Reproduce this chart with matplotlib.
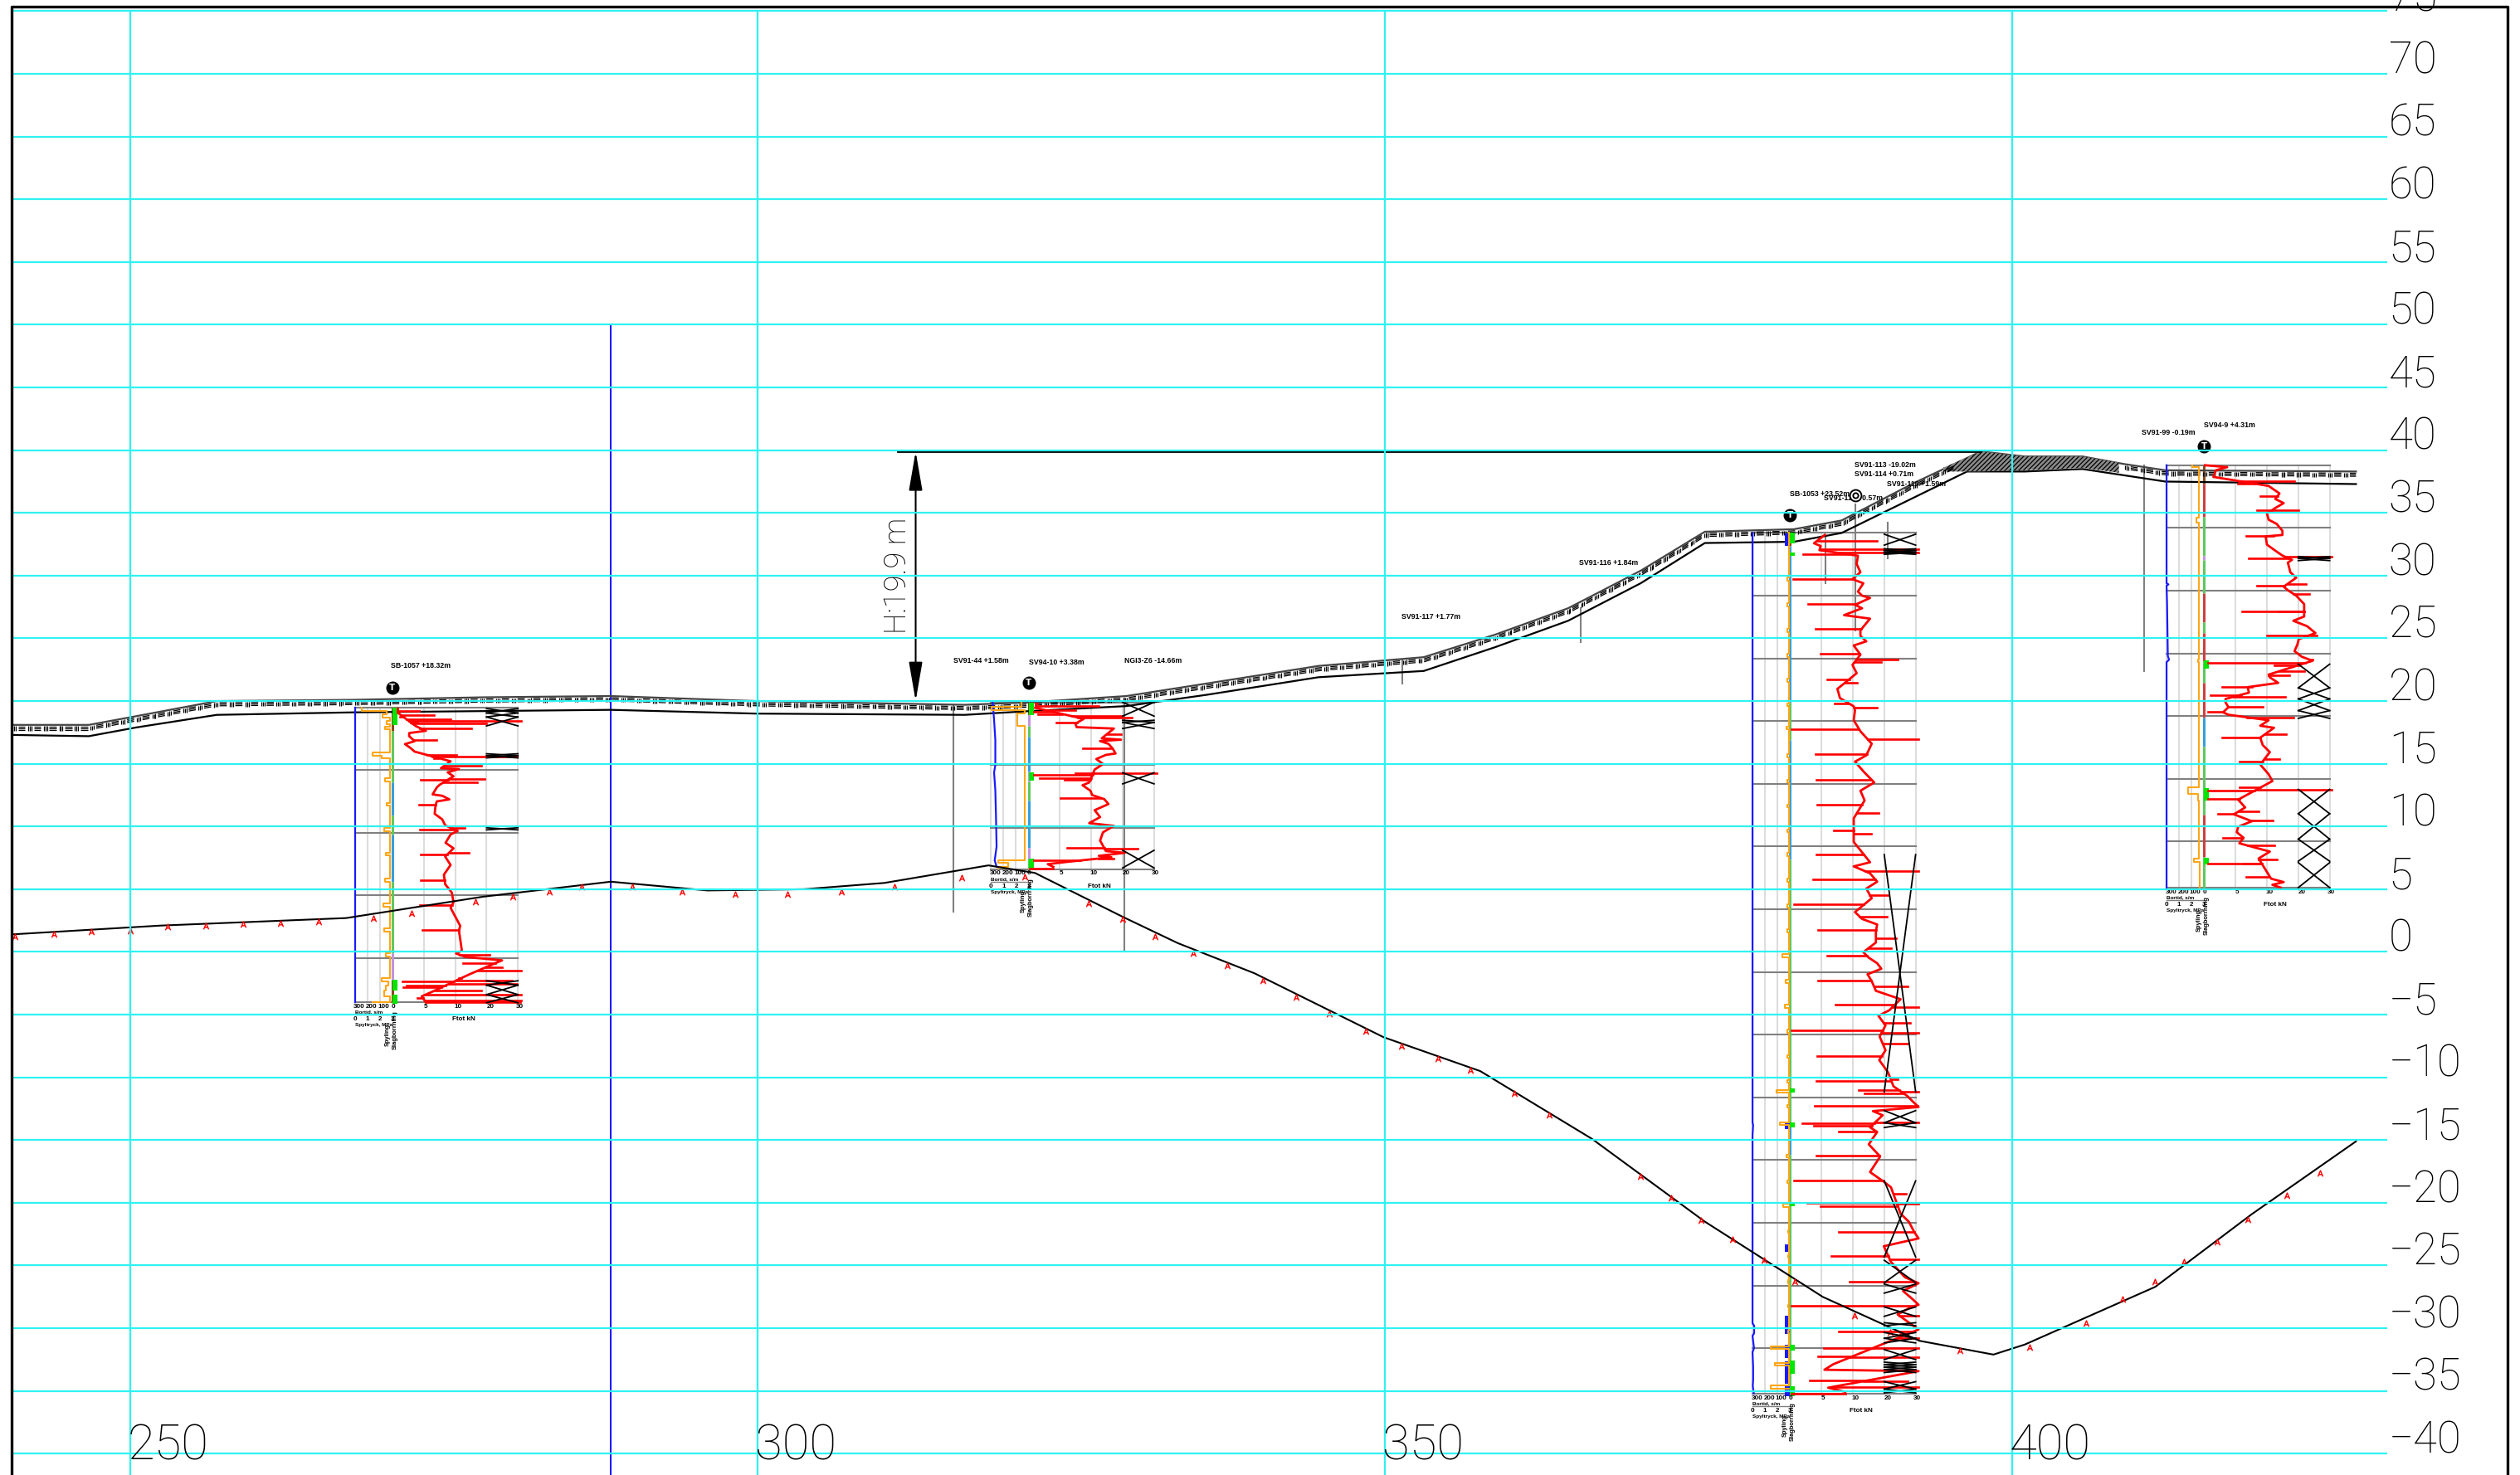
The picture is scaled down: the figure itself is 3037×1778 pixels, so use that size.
import numpy as np
import matplotlib
matplotlib.use('Agg')
import matplotlib.pyplot as plt
from matplotlib.collections import LineCollection
from matplotlib.path import Path
from matplotlib.patches import Rectangle

CYAN = '#2ef2f2'
GREY = '#808080'
LIGHT = '#dddddd'
RED = '#ff0000'
ORANGE = '#ffa615'
BLUE = '#1a1aff'
GREEN = '#00e600'
S_GREEN = '#5fc85f'
S_BLUE = '#35a0dc'
S_BROWN = '#8a4a1c'
S_LILAC = '#c493e0'
S_RED = '#cc4040'

# axis labels
level_ticks = [70, 65, 60, 55, 50, 45, 40, 35, 30, 25, 20, 15, 10, 5, 0, -5, -10, -15, -20, -25, -30, -35, -40]
chainage_ticks = [250, 300, 350, 400]

# ground surface (chainage, level)
surface_x = [240.6, 246.7, 250.5, 256.9, 267.8, 278.1, 288.3, 299.9, 316.5, 321.7, 329.4, 335.8, 344.7, 353.1, 358.8,
             364.6, 370.4, 375.5, 382.6, 386.4, 392.2, 397.5, 401.0, 405.6, 408.9, 412.2, 427.4]
surface_y = [18.1, 18.1, 18.8, 20.0, 20.1, 20.3, 20.4, 20.0, 19.7, 19.9, 20.4, 21.4, 22.8, 23.5, 25.3,
             27.4, 30.4, 33.5, 33.7, 34.4, 37.4, 39.9, 39.5, 39.5, 38.9, 38.4, 38.3]
under_x = [240.6, 246.7, 250.5, 256.9, 267.8, 278.1, 288.3, 299.9, 316.5, 321.7, 329.4, 335.8, 344.7, 353.1, 358.8,
           364.6, 370.4, 375.5, 382.6, 386.4, 396.4, 401.0, 405.6, 408.9, 412.2, 427.4]
under_y = [17.3, 17.2, 17.9, 18.9, 19.1, 19.2, 19.3, 19.0, 18.9, 19.2, 19.6, 20.5, 21.9, 22.4, 24.3,
           26.4, 29.4, 32.6, 32.7, 33.4, 38.3, 38.3, 38.5, 38.0, 37.5, 37.3]
dense_x = [394.5, 397.5, 401.0, 405.6, 408.5]
dense_top = [38.6, 39.9, 39.5, 39.5, 39.0]
dense_bot = [38.3, 38.3, 38.4, 38.6, 38.2]

# bedrock line and its red marks
rock_x = [240.6, 252.4, 267.2, 278.1, 288.3, 296.0, 303.7, 310.1, 318.4, 322.1, 329.1, 333.5, 339.6, 349.9, 357.6,
          366.5, 375.5, 384.9, 392.6, 398.5, 401.0, 411.4, 419.1, 427.4]
rock_y = [1.4, 2.1, 2.7, 4.4, 5.6, 4.9, 5.0, 5.5, 6.9, 6.3, 2.8, 0.7, -1.7, -6.8, -9.5,
          -14.9, -21.5, -27.5, -31.0, -32.1, -31.3, -26.7, -20.9, -15.1]
mark_x = [240.8, 243.9, 246.9, 250.0, 253.0, 256.0, 259.0, 262.0, 265.0, 269.4, 272.4, 277.5, 280.5, 283.4, 286.0,
          290.0, 294.0, 298.2, 302.4, 306.7, 310.9, 316.3, 321.3, 326.4, 329.1, 331.7, 334.7, 337.4, 340.3, 342.9,
          345.6, 348.5, 351.3, 354.2, 356.8, 360.3, 363.1, 370.4, 372.8, 375.2, 377.7, 380.2, 382.7, 387.4, 390.3,
          395.8, 401.4, 405.9, 408.8, 411.4, 413.7, 416.3, 418.8, 421.9, 424.5]
mark_y = [1.2, 1.4, 1.6, 1.7, 2.0, 2.1, 2.2, 2.3, 2.4, 2.7, 3.1, 4.0, 4.4, 4.8, 5.2,
          5.2, 4.8, 4.6, 4.6, 4.8, 5.2, 5.9, 6.0, 3.9, 2.6, 1.2, -0.1, -1.1, -2.3, -3.6,
          -4.9, -6.3, -7.5, -8.5, -9.4, -11.3, -13.0, -17.9, -19.6, -21.4, -22.9, -24.6, -26.3, -29.0, -30.3,
          -31.8, -31.5, -29.6, -27.7, -26.3, -24.7, -23.1, -21.3, -19.4, -17.6]

# single soundings drawn as plain grey sticks: chainage, top, bottom
stick_x = [315.6, 329.2, 351.4, 365.6, 410.5, 387.5, 390.1, 385.1]
stick_top = [19.7, 20.2, 23.3, 27.4, 38.8, 35.7, 34.2, 33.1]
stick_bot = [3.2, 0.0, 21.4, 24.7, 22.4, 25.6, 31.4, 29.4]

# borehole names
name_text = ['SB-1057 +18.32m', 'SV91-44 +1.58m', 'SV94-10 +3.38m', 'NGI3-Z6 -14.66m', 'SV91-117 +1.77m', 'SV91-116 +1.84m',
             'SB-1053 +23.52m', 'SV91-112 +0.57m', 'SV91-113 -19.02m', 'SV91-114 +0.71m', 'SV91-119 +1.59m',
             'SV91-99 -0.19m', 'SV94-9 +4.31m']
name_x = [270.8, 315.6, 321.6, 329.2, 351.3, 365.5, 382.3, 385.0, 387.4, 387.4, 390.0, 410.3, 415.3]
name_y = [22.8, 23.2, 23.1, 23.2, 26.7, 31.0, 36.5, 36.2, 38.8, 38.1, 37.3, 41.4, 42.0]

# borehole 1
bh1_x = 270.9
bh1_top = 19.5
bh1_depth = [0.1, 0.29, 0.44, 0.6, 0.77, 0.95, 1.1, 1.2, 1.3, 1.5, 1.65, 1.87, 2.05, 2.3, 2.58, 2.7, 2.93, 3.24, 3.53, 3.81, 3.9, 4.03,
             4.3, 4.63, 4.85, 4.92, 5.18, 5.5, 5.69, 5.78, 5.95, 6.17, 6.39, 6.94, 7.05, 7.34, 7.5, 7.76, 7.83, 8.49, 8.93, 9.41, 9.59,
             9.72, 9.85, 10.14, 10.8, 11.24, 11.57, 11.73, 11.9, 12.57, 13.34, 13.78, 14.1, 14.77, 15.54, 15.76, 15.98, 16.42, 17.42,
             17.75, 17.8, 19.4, 19.62, 19.73, 19.9, 20.17, 20.39, 20.72, 20.99, 21.27, 21.6, 21.76, 21.87, 22.05, 22.16, 22.34, 22.55,
             22.66, 22.93, 23.04, 23.19, 23.37, 23.48, 23.52]
bh1_force = [1.3, 6.3, 1.3, 9.9, 1.7, 13.9, 30.8, 6.0, 22.5, 5.6, 18.9, 8.0, 4.0, 4.0, 10.6, 5.3, 3.0, 4.3, 5.3, 15.2, 29.8, 9.9,
             13.9, 21.2, 11.6, 15.9, 13.2, 14.6, 22.0, 6.8, 20.2, 11.3, 10.6, 9.6, 11.9, 13.6, 10.6, 6.3, 10.3, 10.1, 11.9, 12.6, 17.2,
             6.5, 15.6, 13.9, 12.7, 14.6, 18.2, 6.8, 12.6, 13.9, 12.3, 6.8, 12.6, 14.2, 14.6, 6.5, 13.9, 14.6, 16.2,
             7.1, 15.9, 16.6, 15.2, 23.2, 17.5, 26.2, 16.9, 26.2, 30.8, 18.5, 15.9, 28.5, 2.3, 29.8, 3.3, 2.6, 21.2,
             9.6, 30.8, 7.0, 6.0, 30.8, 7.9, 30.5]
bh1_rate_depth = [0.0, 0.1, 0.3, 0.55, 0.82, 1.1, 1.32, 1.54, 1.76, 3.6, 3.86, 4.08, 5.63, 5.9, 7.65, 7.83, 9.6, 9.85, 11.6, 11.8, 13.67,
                  13.89, 15.66, 15.88, 17.64, 17.86, 19.6, 19.84, 21.6, 21.82, 22.15, 22.6, 23.04, 23.48]
bh1_rate = [243, 243, 49, 77, 22, 49, 22, 62, 22, 161, 88, 22, 62, 22, 49, 22, 66, 22, 55, 22, 62,
            22, 71, 22, 66, 22, 55, 22, 88, 33, 55, 66, 22, 161]
bh1_feed_depth = [0.0, 23.5]
bh1_feed = [300, 300]
bh1_bottom = 23.5
bh1_strip_from = [0.0, 1.9, 5.95, 8.6, 10.14, 13.9, 19.62, 21.7]
bh1_strip_to = [1.9, 5.95, 8.6, 10.14, 13.9, 19.62, 21.7, 23.5]
bh1_strip_col = [S_BROWN, S_GREEN, S_BLUE, S_GREEN, S_BLUE, S_GREEN, S_LILAC, S_BROWN]
bh1_green_from = [0.0, 21.7, 22.93]
bh1_green_to = [1.43, 22.6, 23.65]
bh1_blue_from = []
bh1_blue_to = []
bh1_x_from = [0.1, 0.45, 0.77, 3.7, 3.85, 9.6, 21.8, 22.15, 22.9]
bh1_x_to = [0.45, 0.77, 1.48, 3.85, 4.03, 9.77, 22.15, 22.9, 23.55]

# borehole 2
bh2_x = 321.6
bh2_top = 19.9
bh2_depth = [0.07, 0.29, 0.44, 0.62, 0.77, 0.93, 1.1, 1.21, 1.32, 1.61, 1.7, 1.98, 2.09, 2.54, 2.87, 2.98, 3.09, 3.31, 3.64, 3.68, 4.08,
             4.19, 4.52, 4.92, 5.36, 5.62, 5.67, 5.75, 6.06, 6.17, 6.39, 6.61, 7.05, 7.39, 7.63, 7.72, 8.11, 8.6, 9.15, 9.63, 9.85,
             10.36, 11.02, 11.62, 11.68, 11.86, 12.0, 12.24, 12.35, 12.46, 12.61, 12.72, 12.9, 13.12, 13.25]
bh2_force = [2.0, 16.8, 1.6, 11.2, 1.3, 2.3, 22.4, 24.7, 13.2, 6.6, 11.2, 11.5, 20.4, 22.1, 17.5, 22.1, 17.1, 19.1, 12.9, 20.1, 20.8,
             18.5, 16.2, 17.8, 15.8, 11.2, 30.7, 1.3, 2.6, 8.6, 14.5, 12.9, 14.8, 15.2, 7.6, 18.1, 19.1, 15.8, 17.1, 14.5, 20.4,
             17.8, 17.1, 9.2, 26.0, 18.5, 23.0, 16.8, 19.8, 20.4, 1.3, 9.2, 4.6, 5.9, 0.3]
bh2_rate_depth = [0.0, 0.33, 0.6, 0.88, 1.2, 1.87, 12.6, 12.8, 13.1, 13.25]
bh2_rate = [55, 297, 33, 88, 88, 33, 242, 165, 242, 242]
bh2_feed_depth = [0.0, 1.4, 3.0, 5.0, 5.6, 7.0, 9.0, 11.5, 12.6, 13.1]
bh2_feed = [286, 275, 265, 265, 275, 265, 260, 255, 270, 255]
bh2_bottom = 13.3
bh2_strip_from = [0.0, 1.0, 1.87, 2.76, 5.5, 6.28, 7.83, 11.57, 12.46]
bh2_strip_to = [1.0, 1.87, 2.76, 5.5, 6.28, 7.83, 11.57, 12.46, 13.3]
bh2_strip_col = [S_BROWN, S_LILAC, S_GREEN, S_BLUE, S_LILAC, S_GREEN, S_BLUE, S_LILAC, S_GREEN]
bh2_green_from = [0.0, 5.55, 12.46]
bh2_green_to = [1.0, 6.24, 13.3]
bh2_blue_from = []
bh2_blue_to = []
bh2_x_from = [0.0, 1.43, 1.6, 5.62, 11.8]
bh2_x_to = [1.1, 1.6, 2.09, 6.5, 13.2]

# borehole 3
bh3_x = 382.3
bh3_top = 33.4
bh3_depth = [0.15, 0.6, 0.82, 1.04, 1.26, 1.37, 1.54, 1.7, 1.81, 2.47, 3.13, 3.64, 3.68, 4.01, 4.67, 5.0, 5.18, 5.67, 5.73, 6.0, 6.55,
             6.83, 7.65, 7.76, 8.2, 8.64, 8.97, 9.63, 9.7, 10.08, 10.3, 10.52, 11.18, 11.66, 11.95, 12.43, 13.16, 13.6, 13.82, 13.93,
             14.15, 14.93, 15.63, 15.81, 16.47, 16.8, 17.64, 17.73, 18.23, 19.0, 19.66, 19.89, 20.55, 21.32, 21.69, 22.31, 22.75,
             23.7, 24.0, 24.63, 25.62, 26.25, 26.58, 26.96, 27.13, 27.64, 27.8, 28.35, 28.85, 29.12, 29.63, 29.67, 30.22, 30.6, 30.77,
             31.21, 31.65, 31.76, 32.32, 32.65, 33.09, 33.42, 33.68, 33.86, 34.3, 34.74, 35.18, 35.67, 35.73, 36.17, 36.5, 37.17,
             37.61, 37.83, 38.05, 38.49, 39.04, 39.26, 39.63, 39.88, 40.14, 40.69, 41.24, 41.69, 42.02, 43.0, 43.56, 43.67, 44.11,
             44.44, 44.55, 44.66, 44.88, 45.32, 45.7, 45.76, 46.09, 46.42, 47.02, 47.04, 47.24, 47.38, 47.69, 47.75, 48.74, 49.63,
             49.67, 49.72, 50.95, 51.65, 51.72, 52.16, 52.67, 53.44, 53.48, 53.64, 54.26, 54.92, 55.69, 55.75, 56.24, 56.86, 57.67,
             57.89, 58.11, 59.33, 59.7, 59.81, 60.43, 61.09, 61.53, 61.64, 61.7, 62.3, 62.41, 63.5, 63.67, 63.85, 64.2, 64.95, 65.0,
             65.67, 65.72, 66.27, 66.71, 66.82, 67.59, 67.62, 68.1, 68.14, 68.47, 68.62]
bh3_force = [8.3, 20.8, 5.7, 7.3, 30.7, 7.0, 30.7, 3.0, 16.2, 15.9, 16.8, 0.7, 14.9, 17.5, 16.2, 17.2, 19.1, 4.3, 15.5, 17.2, 12.9,
             19.1, 6.0, 16.8, 16.8, 18.2, 15.2, 7.3, 16.8, 25.7, 21.8, 14.9, 15.9, 8.9, 15.9, 11.3, 11.9, 10.6, 15.2, 20.8,
             15.5, 15.2, 0.4, 16.8, 30.7, 19.5, 6.0, 18.2, 15.5, 17.5, 6.2, 20.1, 16.8, 17.8, 6.4, 21.1, 15.2,
             10.4, 19.3, 15.2, 6.2, 19.1, 15.2, 30.7, 19.1, 5.5, 20.8, 18.2, 23.4, 19.5, 0.9, 17.5, 15.5, 23.1, 17.2,
             20.8, 6.6, 20.5, 25.4, 20.5, 24.1, 17.5, 8.9, 18.8, 20.8, 21.8, 18.5, 6.6, 19.5, 28.0, 20.5, 26.4,
             10.9, 30.7, 23.7, 21.1, 28.7, 22.8, 0.4, 30.7, 21.4, 28.0, 22.8, 6.4, 21.3, 23.4, 25.7, 6.3, 24.7,
             16.3, 30.7, 17.8, 28.0, 29.3, 5.8, 30.7, 19.8, 22.1, 30.7, 2.9, 5.7, 19.1, 11.6, 20.8, 18.8, 21.3,
             6.3, 21.5, 19.1, 0.9, 22.4, 24.1, 27.7, 4.0, 30.7, 7.3, 26.4, 28.4, 11.7, 29.7, 30.7, 22.4, 9.9,
             30.7, 24.1, 27.4, 14.2, 30.7, 27.0, 29.3, 30.7, 0.4, 29.0, 25.7, 30.7, 30.7, 11.7, 26.4, 30.7, 8.0, 30.7,
             6.6, 30.7, 10.3, 8.2, 30.7, 4.7, 28.0, 30.7, 9.1, 13.2, 0.4]
bh3_bump_depth = [3.68, 5.73, 7.76, 9.74, 11.73, 13.7, 15.54, 17.75, 19.78, 21.76, 23.74, 25.62, 27.69, 29.74, 31.72, 33.7, 35.73, 37.72, 39.7,
                  41.73, 43.71, 44.5, 45.7, 47.1, 49.67, 51.72, 53.6, 55.7, 57.67, 59.7, 61.64, 63.7, 64.95, 66.27, 68.1]
bh3_bump_rate = [20, 20, 20, 20, 20, 22, 28, 22, 22, 22, 20, 20, 25, 25, 25, 65, 35, 42, 20,
                 20, 25, 108, 25, 80, 30, 25, 53, 15, 15, 15, 15, 15, 152, 120, 152]
bh3_rate_depth = [0.0]
bh3_rate = [9]
for d_, r_ in zip(bh3_bump_depth, bh3_bump_rate):
    bh3_rate_depth += [d_ - 0.12, d_ + 0.12]
    bh3_rate += [r_, 9]
bh3_feed_depth = [0.0, 47.0, 47.2, 48.0, 63.0, 63.2, 63.8, 64.0, 65.0, 65.3, 66.5, 67.5, 68.0, 68.6]
bh3_feed = [300, 300, 295, 300, 300, 287, 287, 300, 288, 300, 295, 295, 298, 290]
bh3_bottom = 68.6
bh3_strip_from = [0.0, 1.0, 13.5, 16.5, 26.0, 47.0, 49.6]
bh3_strip_to = [1.0, 13.5, 16.5, 26.0, 47.0, 49.6, 68.8]
bh3_strip_col = [S_BROWN, S_BLUE, S_GREEN, S_BLUE, S_GREEN, S_BLUE, S_GREEN]
bh3_green_from = [0.0, 1.55, 44.3, 47.0, 53.4, 64.7, 66.0, 68.0]
bh3_green_to = [0.8, 1.85, 44.6, 47.4, 53.7, 65.2, 67.0, 68.8]
bh3_blue_from = [0.04, 47.0, 56.7, 62.4, 64.73, 66.05, 68.0]
bh3_blue_to = [1.04, 47.5, 57.3, 63.85, 65.8, 67.8, 68.8]
bh3_x_from = [0.1, 1.26, 1.4, 1.55, 25.64, 46.05, 47.02, 51.65, 57.98, 59.88, 61.7, 62.96, 63.74, 64.2, 65.1, 66.1, 66.3, 66.5, 66.7, 67.66, 68.25]
bh3_x_to = [0.97, 1.4, 1.55, 1.7, 44.55, 47.02, 47.4, 57.72, 59.77, 60.6, 62.45, 63.2, 64.2, 64.57, 65.9, 66.3, 66.5, 66.7, 66.93, 68.25, 68.55]

# borehole 4
bh4_x = 415.3
bh4_top = 38.8
bh4_depth = [0.0, 0.15, 0.4, 0.93, 1.26, 1.48, 1.65, 2.25, 2.47, 2.69, 3.02, 3.35, 3.57, 3.58, 3.84, 4.34, 4.67, 5.22, 5.56, 5.62, 5.67,
             6.33, 6.88, 7.2, 7.28, 7.43, 7.54, 7.76, 8.53, 8.97, 9.46, 9.63, 9.68, 9.96, 10.25, 10.4, 11.07, 11.66, 11.68, 12.06, 12.4,
             12.83, 13.38, 13.54, 13.6, 13.87, 14.27, 14.82, 15.26, 15.48, 15.59, 15.77, 15.92, 16.43, 16.69, 16.74, 16.91, 17.35, 17.64,
             17.69, 18.13, 18.3, 18.46, 18.63, 18.9, 19.23, 19.29, 19.67, 19.7, 19.89, 20.09, 20.33, 20.77, 20.93, 21.43, 21.7, 21.72,
             22.31, 22.87, 23.42, 23.64, 23.86, 24.63, 25.18, 25.69, 25.84, 25.95, 26.61, 26.66, 27.28, 27.61, 27.78, 27.83, 28.31,
             28.38, 28.82, 29.26, 29.7, 29.74, 30.14, 30.32, 30.8, 31.35, 31.4, 31.73, 31.79, 32.79, 32.96, 33.23, 33.45, 33.67]
bh4_force = [0.2, 5.5, 2.8, 2.2, 21.6, 8.1, 15.4, 18.0, 13.4, 17.0, 19.0, 17.3, 12.7, 22.6, 15.0, 15.4, 17.3, 18.7, 18.7, 10.1, 14.7,
             15.0, 17.3, 18.7, 30.5, 10.7, 21.0, 20.0, 20.6, 22.0, 24.3, 12.6, 19.0, 20.0, 25.2, 22.0, 23.9, 9.1, 17.7, 23.9, 21.3,
             24.6, 26.6, 26.9, 15.0, 22.6, 22.3, 21.6, 23.3, 25.9, 25.9, 0.9, 16.7, 23.9, 15.4, 20.3, 15.7, 17.7, 4.2,
             10.4, 10.7, 1.5, 19.3, 5.1, 5.1, 14.0, 5.8, 0.9, 4.5, 5.8, 21.3, 15.4, 13.4, 16.7, 19.6, 4.2, 13.4,
             14.0, 15.7, 18.0, 8.4, 13.4, 15.4, 16.3, 8.4, 30.5, 0.9, 0.9, 8.1, 9.8, 13.0, 3.2, 7.1, 16.3,
             11.4, 8.1, 7.8, 9.4, 4.5, 8.4, 16.7, 15.7, 13.0, 17.3, 0.9, 9.4, 10.1, 16.0, 19.0, 16.3, 18.3]
bh4_rate_depth = [0.0, 0.15, 4.2, 4.6, 15.5, 15.7, 25.7, 26.2, 26.7, 31.35, 31.6, 33.67]
bh4_rate = [97, 43, 60, 43, 50, 43, 130, 48, 40, 82, 37, 37]
bh4_feed_depth = [0.0, 9.4, 9.5, 9.6, 11.0, 15.2, 15.5, 15.7, 33.67]
bh4_feed = [300, 300, 285, 300, 296, 290, 280, 300, 300]
bh4_bottom = 33.67
bh4_strip_from = [0.0, 1.5, 4.1, 7.2, 7.54, 10.2, 12.5, 13.4, 15.6, 17.35, 20.1, 22.4, 27.83, 31.25]
bh4_strip_to = [1.5, 4.1, 7.2, 7.54, 10.2, 12.5, 13.4, 15.6, 17.35, 20.1, 22.4, 27.83, 31.25, 33.67]
bh4_strip_col = [S_BROWN, S_RED, S_GREEN, S_LILAC, S_GREEN, S_RED, S_GREEN, S_RED, S_GREEN, S_RED, S_BLUE, S_GREEN, S_RED, S_GREEN]
bh4_green_from = [15.55, 25.73, 31.29]
bh4_green_to = [16.2, 26.72, 31.84]
bh4_blue_from = []
bh4_blue_to = []
bh4_x_from = [7.28, 7.42, 15.86, 17.75, 18.63, 19.56, 25.84, 27.78, 29.81, 31.68]
bh4_x_to = [7.42, 7.6, 17.75, 18.63, 19.56, 20.18, 27.78, 29.81, 31.57, 33.67]

# symbols on top of the boreholes
tsym_x = [270.9, 321.6, 382.3, 415.3]
tsym_y = [21.06, 21.45, 34.8, 40.3]

# 30 on the force scale is 10 m on the drawing
F_SCALE = 3.0
R_SCALE = 100.0
SMALL = ['Liberation Sans', 'DejaVu Sans']
BIG = ['Roboto', 'DejaVu Sans']

fig = plt.figure(figsize=(30.37, 17.78), dpi=100)
ax = fig.add_axes([0, 0, 1, 1])
ax.set_xlim(239.62, 440.47)
ax.set_ylim(-41.7, 75.89)
ax.axis('off')
plt.rcParams['hatch.linewidth'] = 0.9

x_left = 240.54
x_right = 439.48
y_top = 75.36
x_grid_end = 429.9

# frame, open at the bottom
ax.plot([x_left, x_left, x_right, x_right], [-41.7, y_top, y_top, -41.7], color='black', lw=2.4, zorder=12)

# grid
for lev in [75] + level_ticks:
    ax.plot([x_left, x_grid_end], [lev, lev], color=CYAN, lw=1.6, zorder=10, solid_capstyle='butt')
for ch in chainage_ticks:
    ax.plot([ch, ch], [-41.7, 75.0], color=CYAN, lw=1.6, zorder=10, solid_capstyle='butt')
ax.plot([288.3, 288.3], [50, -41.7], color=BLUE, lw=1.5, zorder=3)

# level and chainage labels
for lev in level_ticks:
    ax.text(430.0, lev + 0.05, str(lev).replace('-', '\u2212'), fontsize=38, family=BIG, fontweight='light', va='baseline', ha='left', zorder=11)
top_lab = ax.text(430.0, 75.05, '75', fontsize=38, family=BIG, fontweight='light', va='baseline', ha='left')
top_lab.set_clip_path(Rectangle((x_left, 75.0), x_right - x_left, y_top - 75.0, transform=ax.transData))
for ch in chainage_ticks:
    ax.text(ch - 0.2, -40.5, str(ch), fontsize=43, family=BIG, fontweight='light', va='baseline', ha='left', zorder=11)

# embankment
ax.plot(surface_x, surface_y, color='#444444', lw=1.6, zorder=4)
ax.plot(under_x, under_y, color='black', lw=1.6, zorder=4)
ax.fill_between(dense_x, dense_bot, dense_top, facecolor='#8a8a8a', edgecolor='black', hatch='//////', lw=0, zorder=4)

# repeated road pattern below the surface line
seg = np.hypot(np.diff(surface_x), np.diff(surface_y))
along = np.concatenate([[0], np.cumsum(seg)])
def on_surface(s, off):
    px_ = np.interp(s, along, surface_x)
    py_ = np.interp(s, along, surface_y)
    return (px_, py_ - off)
strokes = []
for start in np.arange(0, along[-1], 1.25):
    sx, sy = on_surface(start, 0)
    if 394.5 < sx < 408.5:
        continue
    for k in range(3):
        strokes.append([on_surface(start + k * 0.13, 0.1), on_surface(start + k * 0.13, 0.45)])
    for k in range(3):
        off = 0.14 + k * 0.12
        strokes.append([on_surface(start + 0.45, off), on_surface(start + 1.02, off)])
ax.add_collection(LineCollection(strokes, colors='black', linewidths=0.9, zorder=4))

# bedrock
ax.plot(rock_x, rock_y, color='black', lw=1.5, zorder=6)
lam = Path([(-0.8, -1), (0, 0.9), (0.8, -1), (-0.45, -0.35), (0.45, -0.35)],
           [Path.MOVETO, Path.LINETO, Path.LINETO, Path.MOVETO, Path.LINETO])
ax.plot(mark_x, mark_y, ls='none', marker=lam, ms=5.5, mfc='none', mec=RED, mew=1.0, zorder=6)

# grey sticks
for sx, st, sb in zip(stick_x, stick_top, stick_bot):
    ax.plot([sx, sx], [st, sb], color=GREY, lw=1.5, zorder=3)

# top height line and dimension
ax.plot([311.2, 397.5], [39.9, 39.9], color='black', lw=2.0, zorder=5)
ax.annotate('', xy=(312.6, 20.0), xytext=(312.6, 39.9),
            arrowprops=dict(arrowstyle='<|-|>,head_length=1.45,head_width=0.25', mutation_scale=20, color='black', lw=1.5, shrinkA=0, shrinkB=0), zorder=6)
ax.text(311.2, 30.0, 'H:19.9 m', rotation=90, fontsize=26, family=BIG, fontweight='light', ha='center', va='center', zorder=6)

# borehole names
for nm, nx, ny in zip(name_text, name_x, name_y):
    ax.text(nx, ny, nm, fontsize=6.3, family=SMALL, fontweight='bold', ha='left', va='center', zorder=7)


def split_spikes(depth, force):
    # a reading far from its neighbours is a spike, the rest is the log itself
    depth = np.array(depth)
    force = np.array(force)
    keep = np.ones(len(force), dtype=bool)
    for i in range(len(force)):
        near = force[max(0, i - 3):i + 4]
        if abs(force[i] - np.median(near)) > 3.5:
            keep[i] = False
    return depth, force, keep


def draw_borehole(x0, top, depth, force, rate_depth, rate, feed_depth, feed, bottom, s_from, s_to, s_col, g_from, g_to, b_from, b_to, x_from, x_to):
    left = x0 - 3.0
    right = x0 + 10.0
    base = top - bottom
    # column lines
    for r in [100, 200, 300]:
        ax.plot([x0 - r / R_SCALE] * 2, [top, base], color=LIGHT, lw=1.5, zorder=1)
    for p in [7.5, 15, 22.5, 30]:
        ax.plot([x0 + p / F_SCALE] * 2, [top, base], color=LIGHT, lw=1.5, zorder=1)
    # every 5 m a grey line
    rows = [0.0] + list(np.arange(5, bottom, 5)) + [bottom]
    for d in rows:
        ax.plot([left, right], [top - d, top - d], color=GREY, lw=1.5, zorder=2)
    # drill mode strip
    for a, b, c in zip(s_from, s_to, s_col):
        ax.plot([x0, x0], [top - a, top - b], color=c, lw=2.2, solid_capstyle='butt', zorder=3)
    for a, b in zip(g_from, g_to):
        ax.fill_between([x0, x0 + 0.4], top - a, top - b, color=GREEN, lw=0, zorder=4)
    for a, b in zip(b_from, b_to):
        ax.fill_between([x0 - 0.4, x0], top - a, top - b, color=BLUE, lw=0, zorder=4)
    # blue feed curve, orange rate curve, red force curve
    ax.plot(x0 - np.array(feed) / R_SCALE, top - np.array(feed_depth), color=BLUE, lw=1.6, zorder=4)
    ax.plot(x0 - np.array(rate) / R_SCALE, top - np.array(rate_depth), color=ORANGE, lw=1.5, drawstyle='steps-pre', zorder=4)
    dep, frc, keep = split_spikes(depth, force)
    ax.plot(x0 + frc[keep] / F_SCALE, top - dep[keep], color=RED, lw=2.0, zorder=5)
    for d, f in zip(dep[~keep], frc[~keep]):
        start = np.interp(d, dep[keep], frc[keep])
        ax.plot([x0 + start / F_SCALE, x0 + f / F_SCALE], [top - d, top - d], color=RED, lw=1.9, zorder=5)
    # crossed boxes
    for a, b in zip(x_from, x_to):
        ax.plot([x0 + 7.5, right], [top - a, top - b], color='black', lw=1.3, zorder=6)
        ax.plot([x0 + 7.5, right], [top - b, top - a], color='black', lw=1.3, zorder=6)
    # small scales below the log
    y1 = base - 0.35
    for lab, off in zip(['300', '200', '100', '0'], [-2.65, -1.65, -0.7, 0.05]):
        ax.text(x0 + off, y1, lab, fontsize=5.8, family=SMALL, fontweight='bold', ha='center', va='center', zorder=7)
    for lab, p in zip(['5', '10', '20', '30'], [7.9, 15.6, 23.4, 30.4]):
        ax.text(x0 + p / F_SCALE, y1, lab, fontsize=5.8, family=SMALL, fontweight='bold', ha='center', va='center', zorder=7)
    ax.text(left, base - 0.8, 'Bortid, s/m', fontsize=4.6, family=SMALL, fontweight='bold', ha='left', va='center', zorder=7)
    ax.plot([left, x0], [base - 1.0, base - 1.0], color=GREY, lw=1.0, zorder=2)
    for lab, off in zip(['0', '1', '2', '3'], [-3.0, -2.0, -1.0, 0.0]):
        ax.text(x0 + off, base - 1.35, lab, fontsize=5.8, family=SMALL, fontweight='bold', ha='center', va='center', zorder=7)
    ax.text(left, base - 1.85, 'Spyltryck, MPa', fontsize=4.6, family=SMALL, fontweight='bold', ha='left', va='center', zorder=7)
    ax.text(x0 - 0.4, base - 1.7, 'Spyling', rotation=90, fontsize=5.4, family=SMALL, fontweight='bold', ha='center', va='top', zorder=7)
    ax.text(x0 + 0.2, base - 0.7, 'Slagborrning', rotation=90, fontsize=5.4, family=SMALL, fontweight='bold', ha='center', va='top', zorder=7)
    ax.text(x0 + 17.0 / F_SCALE, base - 1.35, 'Ftot kN', fontsize=5.8, family=SMALL, fontweight='bold', ha='center', va='center', zorder=7)


draw_borehole(bh1_x, bh1_top, bh1_depth, bh1_force, bh1_rate_depth, bh1_rate, bh1_feed_depth, bh1_feed, bh1_bottom,
              bh1_strip_from, bh1_strip_to, bh1_strip_col, bh1_green_from, bh1_green_to, bh1_blue_from, bh1_blue_to, bh1_x_from, bh1_x_to)
draw_borehole(bh2_x, bh2_top, bh2_depth, bh2_force, bh2_rate_depth, bh2_rate, bh2_feed_depth, bh2_feed, bh2_bottom,
              bh2_strip_from, bh2_strip_to, bh2_strip_col, bh2_green_from, bh2_green_to, bh2_blue_from, bh2_blue_to, bh2_x_from, bh2_x_to)
draw_borehole(bh3_x, bh3_top, bh3_depth, bh3_force, bh3_rate_depth, bh3_rate, bh3_feed_depth, bh3_feed, bh3_bottom,
              bh3_strip_from, bh3_strip_to, bh3_strip_col, bh3_green_from, bh3_green_to, bh3_blue_from, bh3_blue_to, bh3_x_from, bh3_x_to)
draw_borehole(bh4_x, bh4_top, bh4_depth, bh4_force, bh4_rate_depth, bh4_rate, bh4_feed_depth, bh4_feed, bh4_bottom,
              bh4_strip_from, bh4_strip_to, bh4_strip_col, bh4_green_from, bh4_green_to, bh4_blue_from, bh4_blue_to, bh4_x_from, bh4_x_to)

# borehole symbols
ax.plot(tsym_x, tsym_y, ls='none', marker='o', ms=10.5, color='black', zorder=8)
for tx, ty in zip(tsym_x, tsym_y):
    ax.text(tx, ty, 'T', color='white', fontsize=7.5, fontweight='bold', ha='center', va='center', zorder=9)
ax.plot([387.5], [36.4], ls='none', marker='o', ms=10, mfc='white', mec='black', mew=1.4, zorder=8)
ax.plot([387.5], [36.4], ls='none', marker='o', ms=4.5, mfc='white', mec='black', mew=1.4, zorder=8)

fig.savefig('out.png', dpi=100, facecolor='white')
